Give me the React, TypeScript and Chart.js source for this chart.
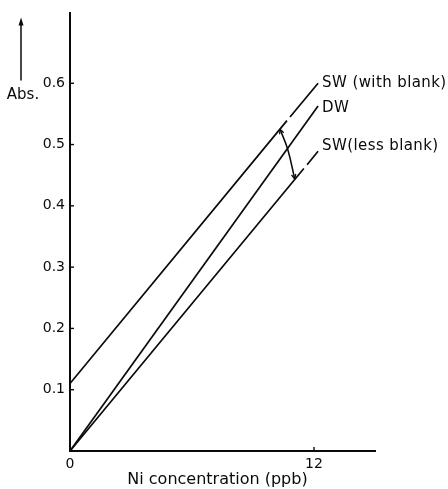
import React, { useEffect, useRef } from "react";
import { Chart, registerables } from "chart.js";

Chart.register(...registerables);

// Data (x: Ni concentration in ppb, y: absorbance)
const swWithBlank = [
  { x: 0, y: 0.11 },
  { x: 10.67, y: 0.539 },
  { x: 10.74, y: null },
  { x: 10.82, y: 0.545 },
  { x: 12.2, y: 0.6 },
];
const dw = [
  { x: 0, y: 0 },
  { x: 12.2, y: 0.563 },
];
const swLessBlank = [
  { x: 0, y: 0 },
  { x: 11.5, y: 0.461 },
  { x: 11.58, y: null },
  { x: 11.66, y: 0.467 },
  { x: 12.2, y: 0.489 },
];
const blankArc = [
  { x: 10.33, y: 0.525 },
  { x: 10.71, y: 0.492 },
  { x: 11.05, y: 0.444 },
];
const seriesLabels = ["SW (with blank)", "DW", "SW(less blank)"];
const labelOffsets = [0, 2, -5];
const xTicks = [0, 12];
const yTicks = [0.1, 0.2, 0.3, 0.4, 0.5, 0.6];
const xTitle = "Ni concentration (ppb)";
const yTitle = "Abs.";

const INK = "#0a0a0a";
const FONT = "'DejaVu Sans', sans-serif";

function arrowHead(ctx: CanvasRenderingContext2D, fx: number, fy: number, tx: number, ty: number, len: number) {
  const a = Math.atan2(ty - fy, tx - fx);
  ctx.beginPath();
  ctx.moveTo(tx, ty);
  ctx.lineTo(tx - len * Math.cos(a - 0.45), ty - len * Math.sin(a - 0.45));
  ctx.moveTo(tx, ty);
  ctx.lineTo(tx - len * Math.cos(a + 0.45), ty - len * Math.sin(a + 0.45));
  ctx.stroke();
}

const decorPlugin = {
  id: "decor",
  afterDraw(chart: any) {
    const ctx = chart.ctx as CanvasRenderingContext2D;
    const { left, right, top, bottom } = chart.chartArea;
    const xs = chart.scales.x;
    const ys = chart.scales.y;
    ctx.save();
    ctx.strokeStyle = INK;
    ctx.fillStyle = INK;
    ctx.lineWidth = 1.4;
    // inside tick marks
    yTicks.forEach((v) => {
      const py = ys.getPixelForValue(v);
      ctx.beginPath();
      ctx.moveTo(left, py);
      ctx.lineTo(left + 4, py);
      ctx.stroke();
    });
    xTicks.forEach((v) => {
      if (v === 0) return;
      const px = xs.getPixelForValue(v);
      ctx.beginPath();
      ctx.moveTo(px, bottom);
      ctx.lineTo(px, bottom - 4);
      ctx.stroke();
    });
    // line labels at line ends
    ctx.font = `15px ${FONT}`;
    (ctx as any).letterSpacing = "0.4px";
    ctx.textBaseline = "middle";
    ctx.textAlign = "left";
    [swWithBlank, dw, swLessBlank].forEach((d, i) => {
      const last = d[d.length - 1];
      const px = xs.getPixelForValue(last.x);
      const py = ys.getPixelForValue(last.y as number);
      ctx.fillText(seriesLabels[i], px + 4, py + labelOffsets[i]);
    });
    (ctx as any).letterSpacing = "0px";
    // arrowheads on the arc
    const p0 = { x: xs.getPixelForValue(blankArc[0].x), y: ys.getPixelForValue(blankArc[0].y) };
    const p1 = { x: xs.getPixelForValue(blankArc[1].x), y: ys.getPixelForValue(blankArc[1].y) };
    const p2 = { x: xs.getPixelForValue(blankArc[2].x), y: ys.getPixelForValue(blankArc[2].y) };
    ctx.lineWidth = 1.3;
    arrowHead(ctx, p1.x, p1.y, p0.x, p0.y, 5);
    arrowHead(ctx, p1.x, p1.y, p2.x, p2.y, 5);
    // y axis label with arrow
    const ax = left - 49;
    ctx.lineWidth = 1.5;
    ctx.beginPath();
    ctx.moveTo(ax, top + 67);
    ctx.lineTo(ax, top + 8);
    ctx.stroke();
    ctx.beginPath();
    ctx.moveTo(ax, top + 4);
    ctx.lineTo(ax - 2.5, top + 12);
    ctx.lineTo(ax + 2.5, top + 12);
    ctx.closePath();
    ctx.fill();
    ctx.font = `15px ${FONT}`;
    ctx.textAlign = "center";
    ctx.fillText(yTitle, ax + 2, top + 82);
    // x axis title
    ctx.font = `16px ${FONT}`;
    ctx.textAlign = "center";
    ctx.fillText(xTitle, (left + right) / 2 - 5, bottom + 29);
    ctx.restore();
  },
};

export default function App() {
  const ref = useRef<HTMLCanvasElement | null>(null);
  useEffect(() => {
    document.body.style.margin = "0";
    const canvas = ref.current;
    if (!canvas) return;
    const lineStyle = {
      borderColor: INK,
      backgroundColor: INK,
      borderWidth: 1.7,
      pointRadius: 0,
      fill: false,
      spanGaps: false,
    };
    const chart = new Chart(canvas, {
      type: "line",
      data: {
        datasets: [
          { ...lineStyle, label: seriesLabels[0], data: swWithBlank as any },
          { ...lineStyle, label: seriesLabels[1], data: dw as any },
          { ...lineStyle, label: seriesLabels[2], data: swLessBlank as any },
          { ...lineStyle, label: "blank", data: blankArc as any, tension: 0.4, borderWidth: 1.5 },
        ],
      },
      options: {
        animation: false,
        responsive: false,
        layout: { padding: { left: 0, right: 73, top: 12, bottom: 0 } },
        plugins: { legend: { display: false }, tooltip: { enabled: false } },
        scales: {
          x: {
            type: "linear",
            min: 0,
            max: 15,
            afterBuildTicks: (s: any) => {
              s.ticks = xTicks.map((v) => ({ value: v }));
            },
            afterFit: (s: any) => {
              s.height = 38;
            },
            grid: { display: false, drawTicks: false },
            border: { display: true, color: INK, width: 2 },
            ticks: {
              color: INK,
              font: { family: FONT, size: 14 },
              padding: 5,
              maxRotation: 0,
              callback: (v: any) => String(v),
            },
          },
          y: {
            type: "linear",
            min: 0,
            max: 0.714,
            afterBuildTicks: (s: any) => {
              s.ticks = yTicks.map((v) => ({ value: v }));
            },
            afterFit: (s: any) => {
              s.width = 70;
            },
            grid: { display: false, drawTicks: false },
            border: { display: true, color: INK, width: 2 },
            ticks: {
              color: INK,
              font: { family: FONT, size: 14 },
              padding: 5,
              callback: (v: any) => Number(v).toFixed(1),
            },
          },
        },
      },
      plugins: [decorPlugin],
    });
    return () => chart.destroy();
  }, []);
  return (
    <div style={{ width: 448, height: 489 }}>
      <canvas ref={ref} width={448} height={489} />
    </div>
  );
}
